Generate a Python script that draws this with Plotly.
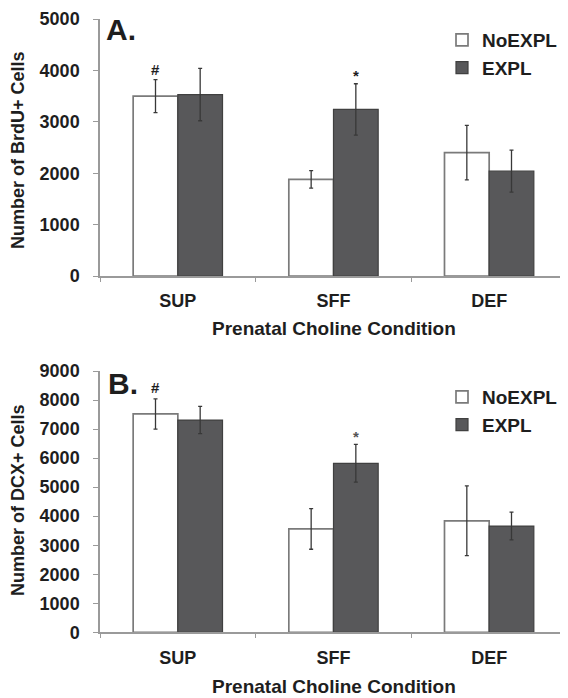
import plotly.graph_objects as go

categories = ["SUP", "SFF", "DEF"]

# Panel A: BrdU+ cells
brdu_noexpl = [3500, 1880, 2400]
brdu_noexpl_err = [320, 170, 530]
brdu_expl = [3530, 3240, 2040]
brdu_expl_err = [510, 500, 410]

# Panel B: DCX+ cells
dcx_noexpl = [7520, 3560, 3840]
dcx_noexpl_err = [520, 700, 1200]
dcx_expl = [7310, 5820, 3660]
dcx_expl_err = [470, 650, 480]

FONT = "Liberation Sans, Arial, sans-serif"
TXT = "#1e1e1e"
AXC = "#9a9a9a"
WHITE_LINE = "#7a7a7a"
DARK = "#58585a"
DARK_LINE = "#404040"
ERR = "#383838"

# the page body adds an 8px margin; reference pixel coords are shifted by it
OFF = 8
W, H = 568 - OFF, 698 - OFF
L, R = 100 - OFF, 1
PW = W - L - R


def py(px):
    return 1 - (px - OFF) / H


def px_x(px):
    return (px - OFF - L) / PW


fig = go.Figure()


def add_pair(noexpl, noexpl_err, expl, expl_err, xa, ya, legend):
    fig.add_trace(go.Bar(
        x=categories, y=noexpl, name="NoEXPL", xaxis=xa, yaxis=ya, legend=legend,
        marker=dict(color="white", line=dict(color=WHITE_LINE, width=1.7)),
        error_y=dict(type="data", array=noexpl_err, color=ERR, thickness=1.3, width=2),
        offsetgroup="a",
    ))
    fig.add_trace(go.Bar(
        x=categories, y=expl, name="EXPL", xaxis=xa, yaxis=ya, legend=legend,
        marker=dict(color=DARK, line=dict(color=DARK_LINE, width=1.2)),
        error_y=dict(type="data", array=expl_err, color=ERR, thickness=1.3, width=2),
        offsetgroup="b",
    ))


add_pair(brdu_noexpl, brdu_noexpl_err, brdu_expl, brdu_expl_err, "x", "y", "legend")
add_pair(dcx_noexpl, dcx_noexpl_err, dcx_expl, dcx_expl_err, "x2", "y2", "legend2")

xcommon = dict(
    type="category", range=[-0.5, 2.5], showline=True, linecolor=AXC, linewidth=1.5,
    ticks="outside", ticklen=4, tickcolor=AXC, tickson="boundaries",
    tickfont=dict(family=FONT, size=18, color=TXT, weight="bold"),
    ticklabelstandoff=8, showgrid=False, zeroline=False, domain=[0, 1],
)
ycommon = dict(
    showline=True, linecolor=AXC, linewidth=1.5, ticks="outside", ticklen=5,
    tickcolor=AXC, tickfont=dict(family=FONT, size=18, color=TXT, weight="bold"),
    ticklabelstandoff=10, ticklabeloverflow="allow", showgrid=False, zeroline=False,
)
legfont = dict(family=FONT, size=19, color=TXT, weight="bold")

fig.update_layout(
    width=W, height=H,
    margin=dict(l=L, r=R, t=0, b=0, autoexpand=False),
    paper_bgcolor="white", plot_bgcolor="white",
    barmode="group", bargap=0.426, bargroupgap=0,
    font=dict(family=FONT, color=TXT),
    xaxis=dict(xcommon, anchor="y"),
    yaxis=dict(ycommon, range=[0, 5000], dtick=1000, domain=[py(276), py(19)], anchor="x"),
    xaxis2=dict(xcommon, anchor="y2"),
    yaxis2=dict(ycommon, range=[0, 9000], dtick=1000, domain=[py(632.3), py(371)], anchor="x2"),
    legend=dict(x=px_x(442), y=py(21), xanchor="left", yanchor="top", font=legfont,
                bgcolor="rgba(0,0,0,0)", tracegroupgap=0, itemwidth=30),
    legend2=dict(x=px_x(442), y=py(378), xanchor="left", yanchor="top", font=legfont,
                 bgcolor="rgba(0,0,0,0)", tracegroupgap=0, itemwidth=30),
)

ann = []
# panel labels
ann.append(dict(text="A.", xref="paper", yref="paper", x=px_x(104), y=py(29),
                xanchor="left", yanchor="middle", showarrow=False,
                font=dict(family=FONT, size=30, color=TXT, weight="bold")))
ann.append(dict(text="B.", xref="paper", yref="paper", x=px_x(106), y=py(383),
                xanchor="left", yanchor="middle", showarrow=False,
                font=dict(family=FONT, size=30, color=TXT, weight="bold")))
# axis titles
for yc, txt in [(150, "Number of BrdU+ Cells"), (500, "Number of DCX+ Cells")]:
    ann.append(dict(text=txt, xref="paper", yref="paper", x=px_x(18), y=py(yc),
                    xanchor="center", yanchor="middle", textangle=-90, showarrow=False,
                    font=dict(family=FONT, size=18, color=TXT, weight="bold")))
for yc in [328, 686]:
    ann.append(dict(text="Prenatal Choline Condition", xref="paper", yref="paper",
                    x=0.5, y=py(yc), xanchor="center", yanchor="middle", showarrow=False,
                    font=dict(family=FONT, size=19, color=TXT, weight="bold")))
# significance markers
off = (1 - 0.426) / 4
ann.append(dict(text="#", xref="x", yref="y", x=0 - off, y=brdu_noexpl[0] + brdu_noexpl_err[0],
                yanchor="bottom", yshift=0, showarrow=False,
                font=dict(family=FONT, size=15, color=TXT, weight="bold")))
ann.append(dict(text="*", xref="x", yref="y", x=1 + off, y=brdu_expl[1] + brdu_expl_err[1],
                yanchor="bottom", yshift=-2, showarrow=False,
                font=dict(family=FONT, size=15, color=TXT, weight="bold")))
ann.append(dict(text="#", xref="x2", yref="y2", x=0 - off, y=dcx_noexpl[0] + dcx_noexpl_err[0],
                yanchor="bottom", yshift=1, showarrow=False,
                font=dict(family=FONT, size=15, color=TXT, weight="bold")))
ann.append(dict(text="*", xref="x2", yref="y2", x=1 + off, y=dcx_expl[1] + dcx_expl_err[1],
                yanchor="bottom", yshift=-3, showarrow=False,
                font=dict(family=FONT, size=15, color="#555555", weight="bold")))
fig.update_layout(annotations=ann)

fig.write_html("out.html")
